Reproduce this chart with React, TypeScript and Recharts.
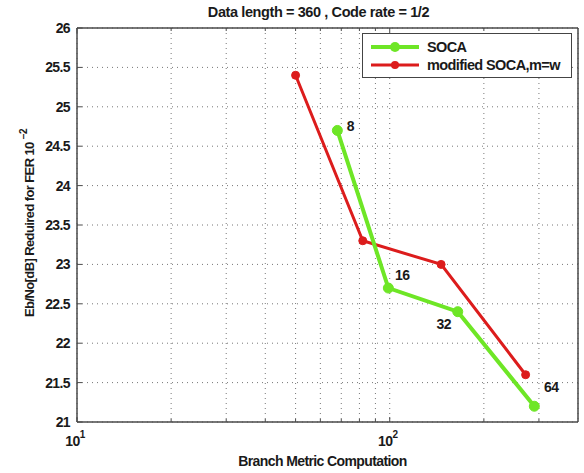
import React from 'react';
import { LineChart, Line, XAxis, YAxis, CartesianGrid, Legend, LabelList } from 'recharts';

const TITLE = 'Data length = 360 , Code rate = 1/2';
const X_LABEL = 'Branch Metric Computation';
const Y_LABEL = 'Eb/No[dB] Reduired for FER 10 ';
const Y_LABEL_SUP = '−2';

const xTicks = [10, 20, 30, 40, 50, 60, 70, 80, 90, 100, 200, 300];
const xMajorTicks: Record<number, string> = { 10: '1', 100: '2' };
const yTicks = [21, 21.5, 22, 22.5, 23, 23.5, 24, 24.5, 25, 25.5, 26];
const xDomain = [10, 400];
const yDomain = [21, 26];

const seriesNames = ['SOCA', 'modified SOCA,m=w'];
const seriesColors = ['#6ee626', '#dc1c1c'];

const socaX = [68, 99, 165, 290];
const socaY = [24.7, 22.7, 22.4, 21.2];
const socaLabels = ['8', '16', '32', '64'];

const modX = [50, 82, 146, 272];
const modY = [25.4, 23.3, 23.0, 21.6];

const socaData = socaX.map((x, i) => ({ x, y: socaY[i], label: socaLabels[i] }));
const modData = modX.map((x, i) => ({ x, y: modY[i] }));

const FONT = '"Liberation Sans", Arial, sans-serif';
const AXIS = '#4a4a4a';
const TXT = '#1a1a1a';

const labelOffsets = [
  [13, -4],
  [14, -13],
  [-14, 12],
  [17, -19],
];

const BottomTick = (props: any) => {
  const { x, y, payload } = props;
  const sup = xMajorTicks[payload.value];
  const len = sup ? 5 : 3;
  return (
    <g>
      <line x1={x} y1={y} x2={x} y2={y - len} stroke={AXIS} strokeWidth={1} />
      {sup && (
        <text x={x - 2} y={y + 24} textAnchor="middle" fontFamily={FONT} fontWeight="bold" fontSize={14} fill={TXT} letterSpacing={-0.5}>
          10
          <tspan dy={-8} fontSize={10}>{sup}</tspan>
        </text>
      )}
    </g>
  );
};

const TopTick = (props: any) => {
  const { x, y, payload } = props;
  const len = xMajorTicks[payload.value] ? 5 : 3;
  return <line x1={x} y1={y} x2={x} y2={y + len} stroke={AXIS} strokeWidth={1} />;
};

const LeftTick = (props: any) => {
  const { x, y, payload } = props;
  return (
    <g>
      <line x1={x} y1={y} x2={x + 5} y2={y} stroke={AXIS} strokeWidth={1} />
      <text x={x - 7} y={y} dy={5} textAnchor="end" fontFamily={FONT} fontWeight="bold" fontSize={14} fill={TXT} letterSpacing={-0.6}>
        {String(payload.value)}
      </text>
    </g>
  );
};

const RightTick = (props: any) => {
  const { x, y } = props;
  return <line x1={x} y1={y} x2={x - 5} y2={y} stroke={AXIS} strokeWidth={1} />;
};

const PointLabel = (props: any) => {
  const { x, y, index, value } = props;
  const [dx, dy] = labelOffsets[index] || [10, -10];
  return (
    <text x={x + dx} y={y + dy} dy={5} textAnchor="middle" fontFamily={FONT} fontWeight="bold" fontSize={14} fill={TXT} letterSpacing={-0.5}>
      {value}
    </text>
  );
};

const LegendBox = () => (
  <div
    style={{
      width: 210,
      height: 45,
      border: '1.5px solid #444',
      background: '#fff',
      boxSizing: 'border-box',
      fontFamily: FONT,
      fontWeight: 'bold',
      fontSize: 14.5,
      letterSpacing: -0.6,
      color: TXT,
      paddingTop: 4,
      whiteSpace: 'nowrap',
      lineHeight: '18px',
    }}
  >
    {seriesNames.map((n, i) => (
      <div key={n} style={{ display: 'flex', alignItems: 'center', height: 18 }}>
        <svg width={60} height={16} style={{ marginLeft: 4, flex: 'none' }}>
          <line x1={4} y1={8} x2={52} y2={8} stroke={seriesColors[i]} strokeWidth={i === 0 ? 4 : 3} />
          <circle cx={28} cy={8} r={i === 0 ? 5 : 4} fill={seriesColors[i]} />
        </svg>
        <span>{n}</span>
      </div>
    ))}
  </div>
);

export default function App() {
  return (
    <div style={{ position: 'absolute', left: 0, top: 0, background: '#fff' }}>
      <LineChart width={584} height={473} margin={{ top: 0, right: 0, bottom: 0, left: 0 }}>
        <CartesianGrid stroke="#777" strokeDasharray="1 4" strokeWidth={1} />
        <XAxis
          xAxisId={0}
          dataKey="x"
          type="number"
          scale="log"
          domain={xDomain}
          ticks={xTicks}
          allowDataOverflow
          height={51}
          tickSize={0}
          tickMargin={0}
          tick={<BottomTick />}
          stroke={AXIS}
          strokeWidth={1.5}
          interval={0}
          label={{
            content: (p: any) => {
              const vb = p.viewBox;
              return (
                <text x={vb.x + vb.width / 2 - 5} y={vb.y + 44} textAnchor="middle" fontFamily={FONT} fontWeight="bold" fontSize={14} fill={TXT} letterSpacing={-0.6}>
                  {X_LABEL}
                </text>
              );
            },
          }}
        />
        <XAxis
          xAxisId="top"
          orientation="top"
          dataKey="x"
          type="number"
          scale="log"
          domain={xDomain}
          ticks={xTicks}
          allowDataOverflow
          height={28}
          tickSize={0}
          tickMargin={0}
          tick={<TopTick />}
          stroke={AXIS}
          strokeWidth={1.5}
          interval={0}
          label={{
            content: (p: any) => {
              const vb = p.viewBox;
              return (
                <text x={vb.x + vb.width / 2 - 9} y={17} textAnchor="middle" fontFamily={FONT} fontWeight="bold" fontSize={14.5} fill={TXT} letterSpacing={-0.4}>
                  {TITLE}
                </text>
              );
            },
          }}
        />
        <YAxis
          yAxisId={0}
          type="number"
          domain={yDomain}
          ticks={yTicks}
          width={77}
          tickSize={0}
          tickMargin={0}
          tick={<LeftTick />}
          stroke={AXIS}
          strokeWidth={1.5}
          interval={0}
          label={{
            content: (p: any) => {
              const vb = p.viewBox;
              const cx = 34;
              const cy = vb.y + vb.height / 2 - 2;
              return (
                <text x={cx} y={cy} transform={`rotate(-90, ${cx}, ${cy})`} textAnchor="middle" fontFamily={FONT} fontWeight="bold" fontSize={13} fill={TXT} letterSpacing={-0.6}>
                  {Y_LABEL}
                  <tspan dy={-7} fontSize={10}>{Y_LABEL_SUP}</tspan>
                </text>
              );
            },
          }}
        />
        <YAxis
          yAxisId="right"
          orientation="right"
          type="number"
          domain={yDomain}
          ticks={yTicks}
          width={6}
          tickSize={0}
          tickMargin={0}
          tick={<RightTick />}
          stroke={AXIS}
          strokeWidth={1.5}
          interval={0}
        />
        <Legend
          layout="vertical"
          align="center"
          verticalAlign="middle"
          wrapperStyle={{ left: 362, top: 33, width: 210, height: 45 }}
          content={() => <LegendBox />}
        />
        <Line
          data={modData}
          dataKey="y"
          name={seriesNames[1]}
          stroke={seriesColors[1]}
          strokeWidth={3}
          dot={{ r: 4, fill: seriesColors[1], stroke: seriesColors[1], strokeWidth: 1 }}
          isAnimationActive={false}
        />
        <Line
          data={socaData}
          dataKey="y"
          name={seriesNames[0]}
          stroke={seriesColors[0]}
          strokeWidth={4}
          dot={{ r: 5, fill: seriesColors[0], stroke: seriesColors[0], strokeWidth: 1 }}
          isAnimationActive={false}
        >
          <LabelList dataKey="label" content={<PointLabel />} />
        </Line>
      </LineChart>
    </div>
  );
}
